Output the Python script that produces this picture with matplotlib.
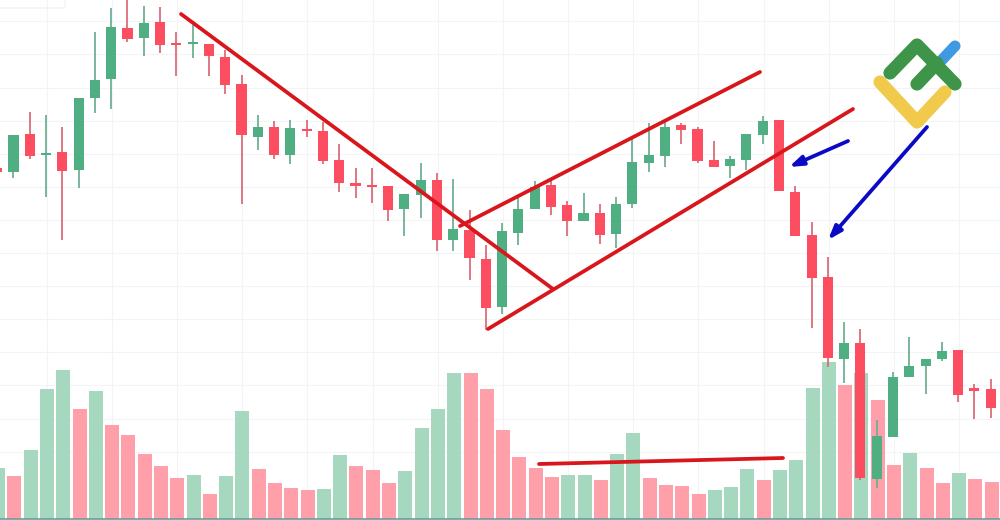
import numpy as np
import matplotlib
matplotlib.use("Agg")
import matplotlib.pyplot as plt
from matplotlib.patches import FancyBboxPatch

# candle data, price units
opens = [352,348,386,365,368,350.5,422,441,492,482,498,476.5,476,476,463.5,436,383.5,393,365,391,389.5,360,337,335,334,311,325.5,340,280.5,290,261.5,213,287.5,311,335,315,299,307,286,316.5,357.5,364,395,391,360.5,354,360.5,385,400,328,285,243,161.5,177,41,83.5,143,154,161,170,131,131]
closes = [348,385,364,367,349.5,422,440.5,493,481,497.5,475,475,478,464,435,385,393,365,392,389,359.5,337.5,334,333,310,326,340,280,291,262,212,289,311,333,313,299,307.5,285,316.5,358,365,393,390,359,353.5,361,386,399.5,329,284.5,242,162.5,177.5,42.5,84,143,154.5,161,169.5,125.5,129.5,112.5]
highs = [352,385,408,405,393,422,488,512,525,514,513,488,495,476,470,445,405,399,400,400,398,376,352,352,334,326,357,347,341,310,275,297,322,339,339,319,327,316,323,384,397,400,397,393,379,364,386,404,400,334,298,263,198,191,100,148,183,161,178,170,136,141]
lows = [347,342,361,323,280,332,407,411,478,464,467,444,462,444,426,316,370,361,356,383,356,328,322,317,299,284,302,269.5,269,240,190,206,275,311,305.5,284,299,276,272,312,348,353,376,357,353,342,350,376,329,284,192,153,137,40,32,84,143,126,159,118,101,102]

volumes = [51,43,69,130,149,110,128,94,84,65,53,41,44,25,43,108,50,36,31,29,30,64,53,49,36,48,91,110,146,146,130,89,62,51,42,44,44,39,65,86,41,34,33,25,29,32,50,39,49,59,131,157,134,146,119,54,66,51,36,46,40,37]
vol_dirs = list("grgggrgrrrrrgrggrrrrggrrrgggg") + list("rrrrrrggrggrrrrgggrgggg") + list("rgrrgrrgrr")
vol_dirs = vol_dirs[:len(volumes)]

grid_idx = np.arange(3, 62, 4)
grid_price = 520 - np.array([22.3,55.4,88.5,121.6,154.7,187.8,220.9,254,287.1,320.2,353.3,386.4,419.5,452.6])

# drawn-on overlay, image pixels
red_lines = [[(181,14),(553,289)], [(460,226),(760,72)], [(488,329),(853,109)], [(539,464),(783,458)]]
blue_arrows = [[(848,141),(789,167)], [(927,127),(828,240)]]
logo_blue = [(940,62),(955,46)]
logo_green = [[(890,73),(917,45),(955,84)], [(917,84),(937,63)]]
logo_yellow = [(880,82),(917,122),(945,92)]

RED = "#fc4e60"
GREEN = "#50ae83"
RED_WICK = "#dc6c7b"
GREEN_WICK = "#6fb093"
RED_VOL = "#ff9fa9"
GREEN_VOL = "#a6d8bf"
LINE_RED = "#d8161b"
LINE_BLUE = "#0a0ac4"

fig = plt.figure(figsize=(10, 5.2), dpi=100, facecolor="white")
idx = np.arange(len(opens))
xlim = (0.172, 61.57)

# volume underneath
ax_vol = fig.add_axes([0, 0, 1, 1], zorder=1)
ax_vol.set_xlim(xlim)
ax_vol.set_ylim(-1, 519)
ax_vol.bar(idx + 0.06, volumes, width=0.86, color=[RED_VOL if d == "r" else GREEN_VOL for d in vol_dirs], zorder=2)
ax_vol.axhline(0, color="#6f9a9c", lw=1.2, zorder=3)
ax_vol.set_xticks(grid_idx + 0.05)
ax_vol.set_yticks(grid_price)
ax_vol.grid(True, color="#f3f4f6", lw=0.8)
ax_vol.set_axisbelow(True)
ax_vol.tick_params(length=0, labelbottom=False, labelleft=False)
for s in ax_vol.spines.values():
    s.set_visible(False)

# candles
ax = fig.add_axes([0, 0, 1, 1], zorder=2)
ax.patch.set_alpha(0)
ax.set_xlim(xlim)
ax.set_ylim(0, 520)
ax.axis("off")
for i in idx:
    up = closes[i] > opens[i]
    ax.vlines(i, lows[i], highs[i], color=GREEN_WICK if up else RED_WICK, lw=1.3, zorder=2)
    bottom = min(opens[i], closes[i])
    height = max(abs(closes[i] - opens[i]), 2.5)
    ax.bar(i, height, bottom=bottom, width=0.62, color=GREEN if up else RED, zorder=3)

# lines, arrows, logo on top
top = fig.add_axes([0, 0, 1, 1], zorder=3)
top.patch.set_alpha(0)
top.set_xlim(0, 1000)
top.set_ylim(520, 0)
top.axis("off")
top.add_patch(FancyBboxPatch((-20, -20), 85, 28, boxstyle="round,pad=0,rounding_size=3", fc="none", ec="#eef0f2", lw=0.8))
for pts in red_lines:
    xs, ys = zip(*pts)
    top.plot(xs, ys, color=LINE_RED, lw=2.7, solid_capstyle="round")
for start, tip in blue_arrows:
    top.annotate("", xy=tip, xytext=start,
                 arrowprops=dict(arrowstyle="-|>,head_length=0.8,head_width=0.28", color=LINE_BLUE, lw=2.7, shrinkA=0, shrinkB=0))
xs, ys = zip(*logo_blue)
top.plot(xs, ys, color="#3f9ae2", lw=8, solid_capstyle="round")
xs, ys = zip(*logo_yellow)
top.plot(xs, ys, color="#f1c94b", lw=9.5, solid_capstyle="round", solid_joinstyle="round")
for pts in logo_green:
    xs, ys = zip(*pts)
    top.plot(xs, ys, color="#3e9549", lw=9.5, solid_capstyle="round", solid_joinstyle="round")

fig.savefig("out.png", dpi=100)
